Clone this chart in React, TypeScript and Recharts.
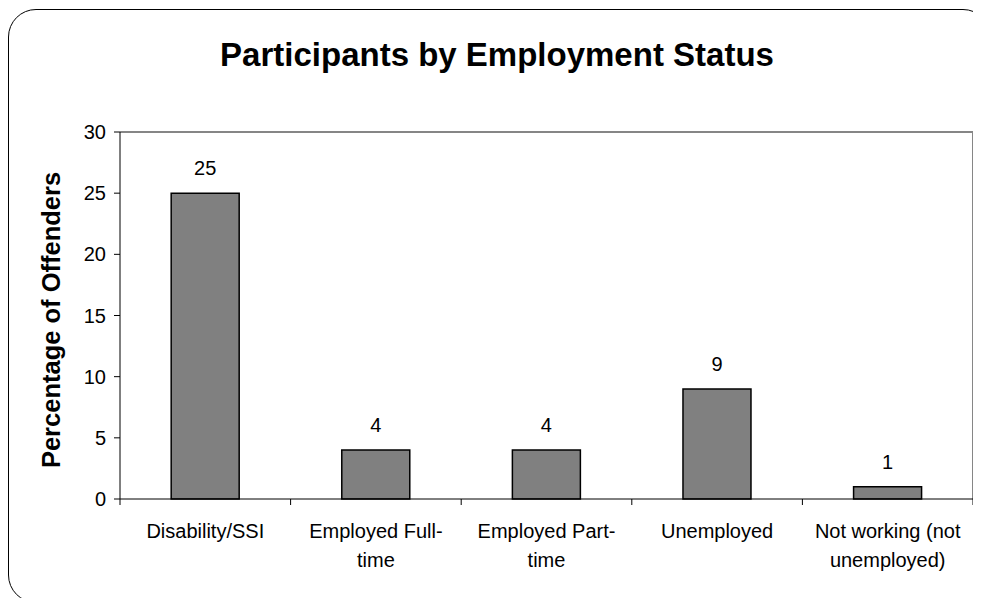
import { BarChart, Bar, XAxis, YAxis, CartesianGrid, LabelList } from 'recharts'

const categories = [
  'Disability/SSI',
  'Employed Full-time',
  'Employed Part-time',
  'Unemployed',
  'Not working (not unemployed)',
]
const tickLines = [
  ['Disability/SSI'],
  ['Employed Full-', 'time'],
  ['Employed Part-', 'time'],
  ['Unemployed'],
  ['Not working (not', 'unemployed)'],
]
const values = [25, 4, 4, 9, 1]
const yTicks = [0, 5, 10, 15, 20, 25, 30]

const data = categories.map((name, i) => ({ name, value: values[i] }))

const FONT = '"Liberation Sans", Arial, sans-serif'

// category labels sit at band centers, tick marks at band edges (Excel style)
// eslint-disable-next-line @typescript-eslint/no-explicit-any
function CategoryTick({ x, y, payload, index, visibleTicksCount }: any) {
  const half = payload?.offset || 85.3
  const lines = tickLines[index] ?? [payload.value]
  return (
    <g>
      <line x1={x - half} x2={x - half} y1={y} y2={y + 6} stroke="#000" />
      {index === visibleTicksCount - 1 && (
        <line x1={x + half} x2={x + half} y1={y} y2={y + 6} stroke="#000" />
      )}
      {lines.map((t: string, i: number) => (
        <text key={i} x={x} y={y + 39 + i * 29} textAnchor="middle" fontSize={20} fill="#000" fontFamily={FONT}>
          {t}
        </text>
      ))}
    </g>
  )
}

export default function App() {
  return (
    <div style={{ position: 'relative', width: 973, height: 590, overflow: 'hidden', fontFamily: FONT }}>
      <div
        style={{
          position: 'absolute', left: 0, top: 1, width: 983, height: 594,
          border: '1.5px solid #000', borderRadius: 28, boxSizing: 'border-box',
        }}
      />
      <div
        style={{
          position: 'absolute', left: 0, top: 30, width: 978, textAlign: 'center',
          fontSize: 33, fontWeight: 'bold', lineHeight: 1, color: '#000',
        }}
      >
        Participants by Employment Status
      </div>
      <div style={{ position: 'absolute', left: 0, top: 0 }}>
        <BarChart
          width={973}
          height={590}
          data={data}
          margin={{ top: 124, right: 8, bottom: 19, left: 12 }}
          barCategoryGap="30%"
          style={{ fontFamily: FONT }}
        >
          <CartesianGrid
            stroke="#868686"
            strokeWidth={2}
            horizontalCoordinatesGenerator={({ offset }: any) => [offset.top]}
            verticalCoordinatesGenerator={({ offset }: any) => [offset.left + offset.width]}
          />
          <XAxis
            dataKey="name"
            height={80}
            tickLine={false}
            tickSize={0}
            tickMargin={0}
            axisLine={{ stroke: '#000' }}
            interval={0}
            tick={<CategoryTick />}
          />
          <YAxis
            width={100}
            domain={[0, 30]}
            ticks={yTicks}
            tickSize={6}
            tickMargin={8}
            axisLine={{ stroke: '#000' }}
            tickLine={{ stroke: '#000' }}
            tick={{ fill: '#000', fontSize: 20 }}
            label={{
              content: () => (
                <text
                  x={43}
                  y={312}
                  transform="rotate(-90 43 312)"
                  textAnchor="middle"
                  dominantBaseline="central"
                  fontSize={25.5}
                  fontWeight="bold"
                  fill="#000"
                  fontFamily={FONT}
                >
                  Percentage of Offenders
                </text>
              ),
            }}
          />
          <Bar dataKey="value" fill="#808080" stroke="#000" strokeWidth={1.5} isAnimationActive={false}>
            <LabelList dataKey="value" position="top" offset={18} fill="#000" fontSize={20} />
          </Bar>
        </BarChart>
      </div>
    </div>
  )
}
